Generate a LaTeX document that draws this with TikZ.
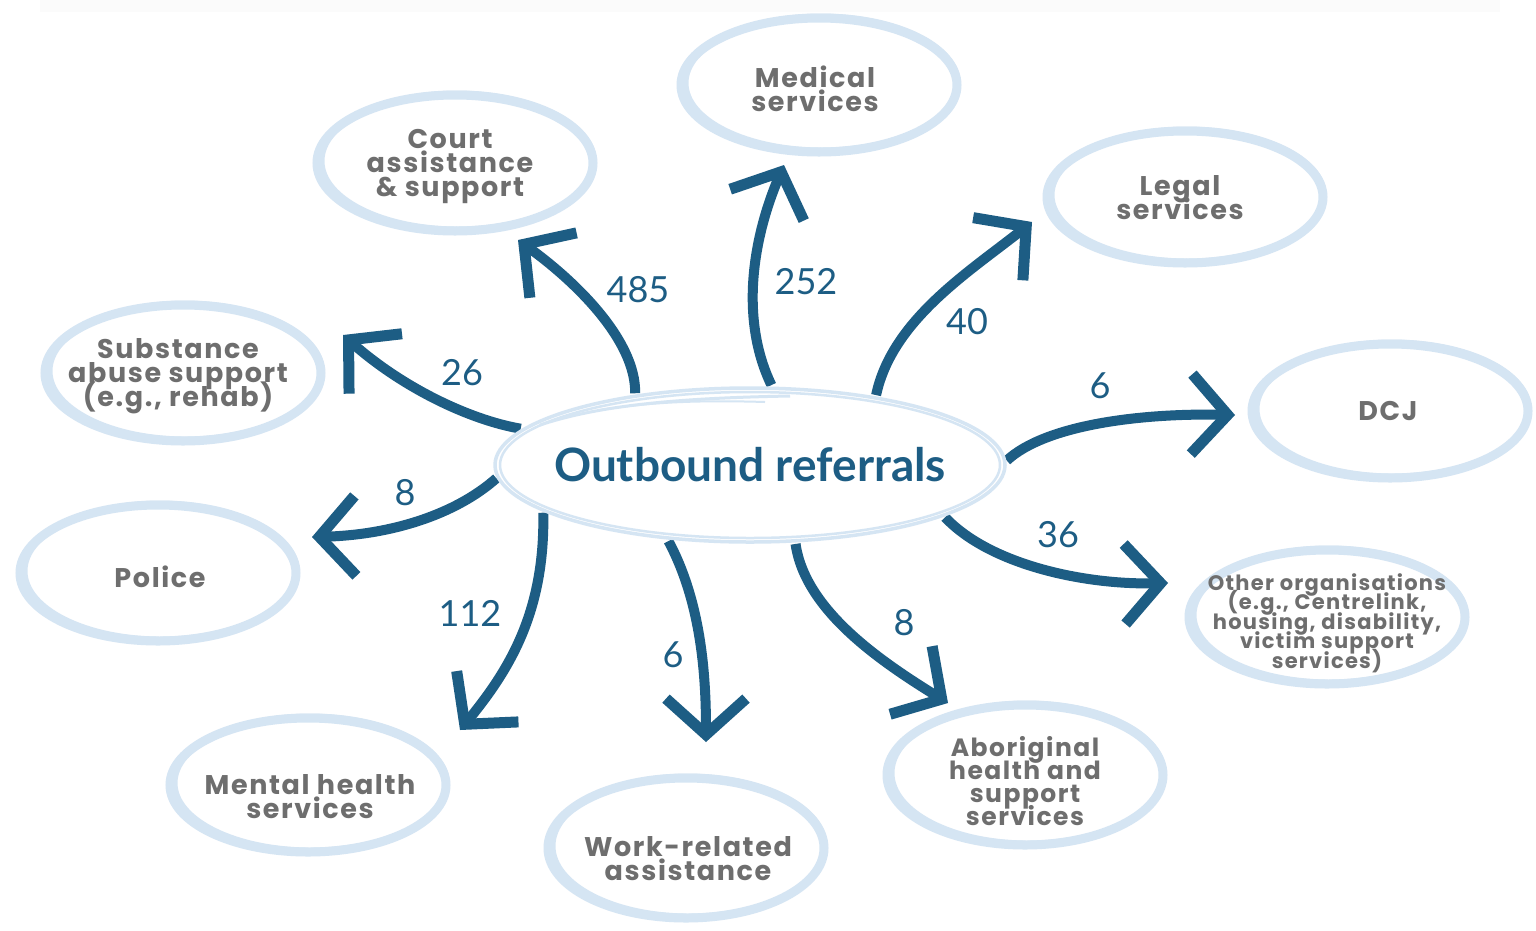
\documentclass[tikz,border=0pt]{standalone}
\usepackage{fontspec}
\setmainfont{Lato}
\newfontfamily\popfont[LetterSpace=6]{Poppins}
\newfontfamily\numfont{Lato}
\usetikzlibrary{arrows.meta,shapes.geometric}
\definecolor{arrowblue}{HTML}{1D5D84}
\definecolor{ringblue}{HTML}{D5E5F3}
\definecolor{labelgray}{HTML}{6E6E6E}
\newcommand\tightlines{\setlength{\lineskiplimit}{-100pt}\setlength{\lineskip}{0pt}}
\tikzset{
  ring/.style={draw=ringblue, line width=9pt},
  ringthin/.style={draw=ringblue, line width=5pt},
  lbl/.style={font={\popfont\bfseries\fontsize{27}{24}\selectfont\tightlines}, text=labelgray, align=center, inner sep=0pt},
  lblsmall/.style={lbl, font={\popfont\bfseries\fontsize{21}{19.5}\selectfont\tightlines}},
  lblmid/.style={lbl, font={\popfont\bfseries\fontsize{25}{23}\selectfont\tightlines}},
  conn/.style={draw=arrowblue, line width=10pt, -{Straight Barb[length=36pt, width=80pt, line width=11pt]}},
  cnt/.style={font=\numfont\fontsize{36}{36}\selectfont, text=arrowblue, inner sep=0pt},
}
\newcommand\mybubble[3]{%
  \draw[ring] (#1,#2) ellipse[x radius=138pt, y radius=#3pt];
  \draw[ringthin, xshift=3pt, yshift=2pt] (#1,#2) ellipse[x radius=136pt, y radius=#3pt];
}
\begin{document}
\begin{tikzpicture}[x=1pt,y=-1pt]
\useasboundingbox (0,0) rectangle (1536,930);
\fill[white] (0,0) rectangle (1536,930);
\fill[gray!3] (40,0) rectangle (1500,12);

% outer bubbles
\mybubble{819}{85}{67}
\mybubble{455}{163}{68}
\mybubble{1185}{197}{66}
\mybubble{183}{373}{68}
\mybubble{1390}{411}{67}
\mybubble{158}{573}{68}
\mybubble{1327}{617}{67}
\mybubble{308}{785}{67}
\mybubble{686}{848}{70}
\mybubble{1025}{775}{70}

% labels
\node[lbl] (med) at (815,89) {Medical\\services};
\node[lbl] (court) at (450,166) {Court\\assistance\\\& support};
\node[lbl] (legal) at (1180,198) {Legal\\services};
\node[lbl] (subst) at (178,376) {Substance\\abuse support\\(e.g., rehab)};
\node[lbl] (dcj) at (1388,411) {DCJ};
\node[lbl] (police) at (160,577) {Police};
\node[lblsmall] (other) at (1327,623) {Other organisations\\(e.g., Centrelink,\\housing, disability,\\victim support\\services)};
\node[lbl] (mental) at (310,797) {Mental health\\services};
\node[lbl] (work) at (688,859) {Work-related\\assistance};
\node[lblmid] (abor) at (1025,781) {Aboriginal\\health and\\support\\services};

% central node
\node[ellipse, minimum width=514pt, minimum height=160pt, inner xsep=-30pt, inner ysep=0pt,
      font=\fontsize{46}{46}\selectfont\bfseries, text=arrowblue] (c) at (750,465) {Outbound referrals};

% arrow tips
\coordinate (hcourt) at (518,240);
\coordinate (hmed) at (784,165);
\coordinate (hlegal) at (1032,222);
\coordinate (hdcj) at (1235,415);
\coordinate (hother) at (1168,583);
\coordinate (habor) at (948,703);
\coordinate (hwork) at (706,742);
\coordinate (hmental) at (460,730);
\coordinate (hpolice) at (312,537);
\coordinate (hsubst) at (343,335);

\draw[conn] (c.148) .. controls (636,340) and (575,281) .. (hcourt);
\draw[conn] (c.75) .. controls (740,320) and (752,240) .. (hmed);
\draw[conn] (c.29) .. controls (892,320) and (969,272) .. (hlegal);
\draw[conn] (c.1) .. controls (1045,425) and (1140,413) .. (hdcj);
\draw[conn] (c.-15) .. controls (990,565) and (1085,585) .. (hother);
\draw[conn] (c.-60) .. controls (805,610) and (880,661) .. (habor);
\draw[conn] (c.-137) .. controls (700,600) and (706,670) .. (hwork);
\draw[conn] (c.-167) .. controls (545,610) and (511,668) .. (hmental);
\draw[conn] (c.183) .. controls (455,515) and (390,535) .. (hpolice);
\draw[conn] (c.171) .. controls (470,420) and (403,388) .. (hsubst);

% central outline
\draw[draw=ringblue, line width=3.5pt] (c.center) ellipse[x radius=255pt, y radius=77pt];
\draw[draw=ringblue, line width=2.5pt, xshift=-3pt, yshift=-2pt] (c.center) ellipse[x radius=250pt, y radius=73pt];
\draw[draw=ringblue, line width=3pt] (540,425) .. controls (600,405) and (680,398) .. (790,396);
\draw[draw=ringblue, line width=2pt] (600,410) .. controls (650,402) and (700,400) .. (765,402);

% counts
\node[cnt] (n485) at (638,290) {485};
\node[cnt] (n252) at (806,282) {252};
\node[cnt] (n40) at (967,322) {40};
\node[cnt] (n6a) at (1100,386) {6};
\node[cnt] (n36) at (1058,535) {36};
\node[cnt] (n8a) at (904,623) {8};
\node[cnt] (n6b) at (673,655) {6};
\node[cnt] (n112) at (470,613) {112};
\node[cnt] (n8b) at (405,493) {8};
\node[cnt] (n26) at (462,373) {26};
\end{tikzpicture}
\end{document}
